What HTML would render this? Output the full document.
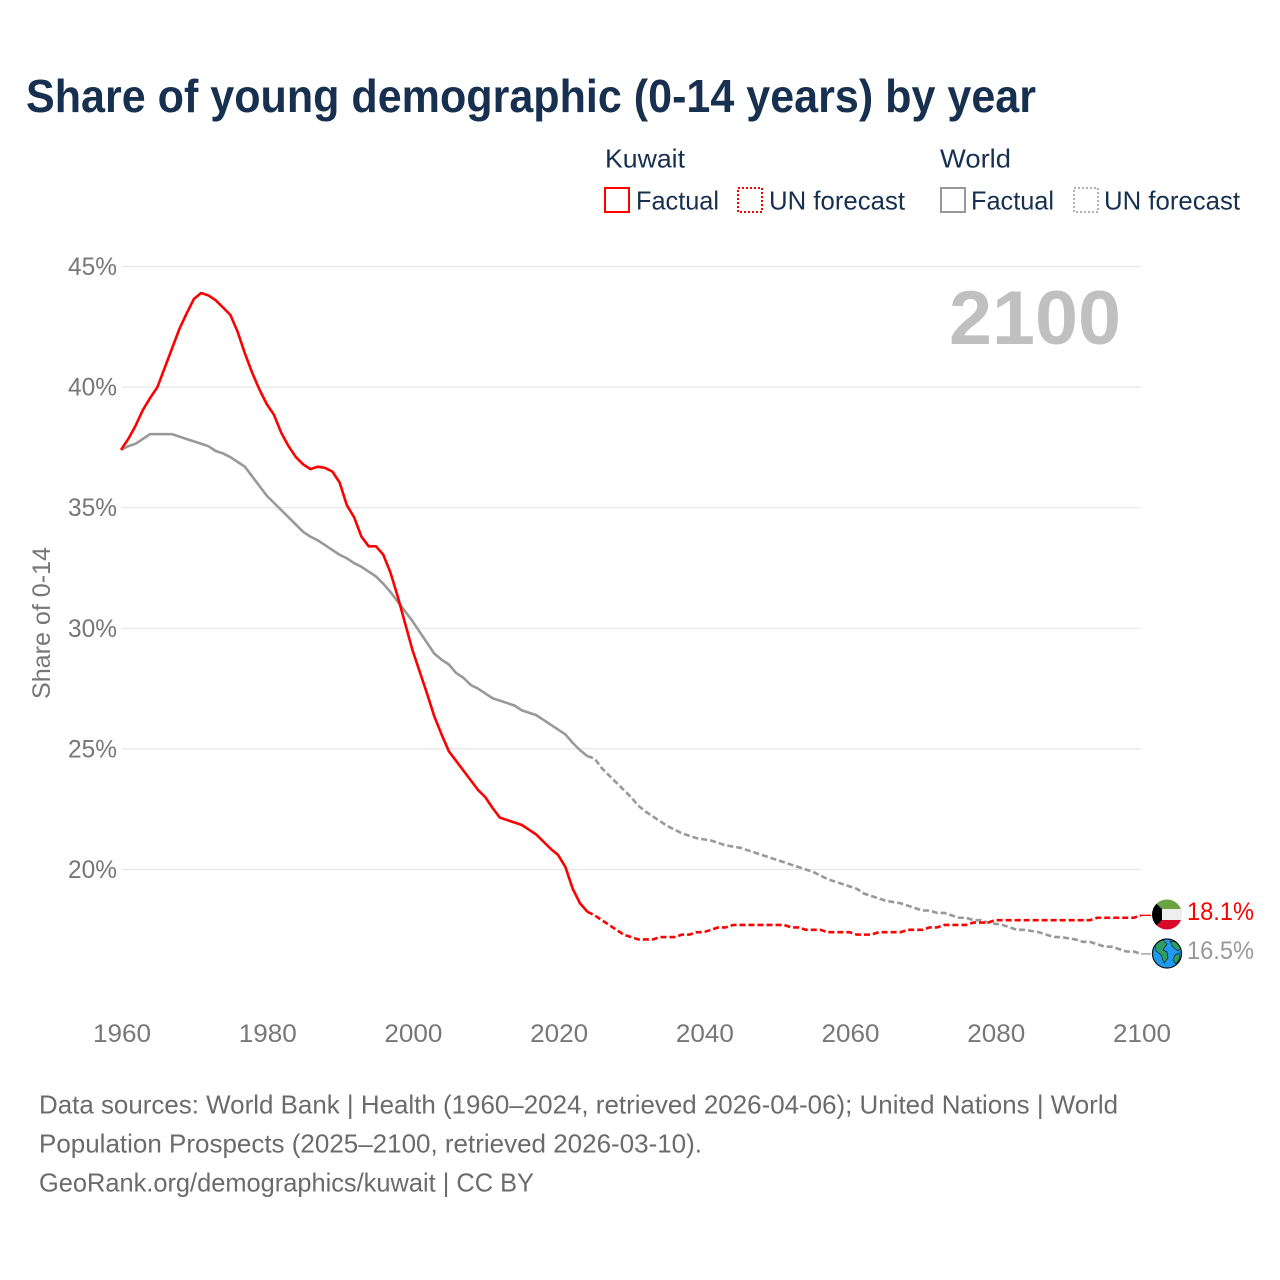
<!DOCTYPE html>
<html lang="en">
<head>
<meta charset="utf-8">
<title>Share of young demographic (0-14 years) by year</title>
<style>
html,body{margin:0;padding:0;background:#fff;}
body{width:1280px;height:1280px;overflow:hidden;}
svg{display:block;font-family:"Liberation Sans",sans-serif;}
</style>
</head>
<body>
<svg id="chart" xmlns="http://www.w3.org/2000/svg" width="1280" height="1280" viewBox="0 0 1280 1280">
  <defs>
    <clipPath id="flag-clip"><circle cx="1167" cy="914.5" r="15"/></clipPath>
    <clipPath id="earth-clip"><circle cx="1167" cy="953.5" r="15"/></clipPath>
  </defs>
  <rect x="0" y="0" width="1280" height="1280" fill="#fff"/>
  <text x="26" y="112" font-size="46" font-weight="700" fill="#17304f" textLength="1010" lengthAdjust="spacingAndGlyphs">Share of young demographic (0-14 years) by year</text>

  <g font-size="26" fill="#17304f">
    <text x="605" y="167.5" textLength="80" lengthAdjust="spacingAndGlyphs">Kuwait</text>
    <text x="940" y="167.5" textLength="71" lengthAdjust="spacingAndGlyphs">World</text>
    <rect x="605" y="188" width="24" height="24" fill="none" stroke="#ff0000" stroke-width="2"/>
    <text x="636" y="209.5" textLength="83" lengthAdjust="spacingAndGlyphs">Factual</text>
    <rect x="738" y="188" width="24" height="24" fill="none" stroke="#ff0000" stroke-width="2" stroke-dasharray="2 2"/>
    <text x="769" y="209.5" textLength="136" lengthAdjust="spacingAndGlyphs">UN forecast</text>
    <rect x="941" y="188" width="24" height="24" fill="none" stroke="#999999" stroke-width="2"/>
    <text x="971" y="209.5" textLength="83" lengthAdjust="spacingAndGlyphs">Factual</text>
    <rect x="1074" y="188" width="24" height="24" fill="none" stroke="#999999" stroke-width="1.5" stroke-dasharray="2 2"/>
    <text x="1104" y="209.5" textLength="136" lengthAdjust="spacingAndGlyphs">UN forecast</text>
  </g>

  <g id="grid"></g>
  <g id="y-ticks" font-size="25" fill="#777777"></g>
  <g id="x-ticks" font-size="25" fill="#777777"></g>
  <text transform="translate(50 623) rotate(-90)" text-anchor="middle" font-size="25" fill="#777777" textLength="152" lengthAdjust="spacingAndGlyphs">Share of 0-14</text>
  <text x="949" y="344" font-size="76" font-weight="700" fill="#c0c0c0" textLength="172" lengthAdjust="spacingAndGlyphs">2100</text>

  <g id="series"></g>

  <g>
    <g clip-path="url(#flag-clip)">
      <rect x="1150" y="898" width="34" height="11" fill="#6aa341"/>
      <rect x="1150" y="909" width="34" height="11" fill="#eeeeee"/>
      <rect x="1150" y="920" width="34" height="12" fill="#d8082a"/>
      <polygon points="1150,898 1152,899.5 1162,909 1162,920 1152,930 1150,932" fill="#000"/>
    </g>
  </g>
  <g>
    <circle cx="1167" cy="953.5" r="15" fill="#1e9af0"/>
    <g clip-path="url(#earth-clip)" fill="#2f9e62" stroke="#123" stroke-width="0.7">
      <polygon points="1155,943 1163,940 1167,944 1163,950 1167,952 1168,958 1164,963 1161,955 1156,951"/>
      <polygon points="1170,941 1176,942 1181,948 1178,951 1173,947"/>
      <polygon points="1175,955 1179,953 1180,958 1176,964 1173,960"/>
    </g>
    <circle cx="1167" cy="953.5" r="14.5" fill="none" stroke="#111" stroke-width="1.2"/>
  </g>
  <text id="label-kuwait" x="1187" y="920" font-size="25" fill="#ff0000" textLength="67" lengthAdjust="spacingAndGlyphs"></text>
  <text id="label-world" x="1187" y="959" font-size="25" fill="#999999" textLength="67" lengthAdjust="spacingAndGlyphs"></text>

  <g font-size="26" fill="#6b6b6b">
    <text x="39" y="1113.5" textLength="1079" lengthAdjust="spacingAndGlyphs">Data sources: World Bank | Health (1960–2024, retrieved 2026-04-06); United Nations | World</text>
    <text x="39" y="1152.5" textLength="663" lengthAdjust="spacingAndGlyphs">Population Prospects (2025–2100, retrieved 2026-03-10).</text>
    <text x="39" y="1191.5" textLength="495" lengthAdjust="spacingAndGlyphs">GeoRank.org/demographics/kuwait | CC BY</text>
  </g>
</svg>
<script>
const xTickYears = [1960, 1980, 2000, 2020, 2040, 2060, 2080, 2100];
const yTickValues = [20, 25, 30, 35, 40, 45];

const factualStartYear = 1960;
const forecastStartYear = 2024;

const kuwaitFactual = [
  37.4, 37.85, 38.4, 39.05, 39.55,
  40.0, 40.8, 41.6, 42.4, 43.05,
  43.65, 43.9, 43.8, 43.6, 43.3,
  43.0, 42.3, 41.4, 40.6, 39.9,
  39.3, 38.85, 38.1, 37.55, 37.1,
  36.8, 36.6, 36.7, 36.65, 36.5,
  36.05, 35.1, 34.6, 33.8, 33.4,
  33.4, 33.05, 32.3, 31.3, 30.2,
  29.1, 28.2, 27.3, 26.35, 25.6,
  24.9, 24.5, 24.1, 23.7, 23.3,
  23.0, 22.55, 22.15, 22.05, 21.95,
  21.85, 21.65, 21.45, 21.15, 20.85,
  20.6, 20.1, 19.2, 18.6, 18.25
];

const kuwaitForecast = [
  18.25, 18.1, 17.9, 17.7, 17.5, 17.3,
  17.2, 17.1, 17.1, 17.1, 17.2,
  17.2, 17.2, 17.3, 17.3, 17.4,
  17.4, 17.5, 17.6, 17.6, 17.7,
  17.7, 17.7, 17.7, 17.7, 17.7,
  17.7, 17.7, 17.6, 17.6, 17.5,
  17.5, 17.5, 17.4, 17.4, 17.4,
  17.4, 17.3, 17.3, 17.3, 17.4,
  17.4, 17.4, 17.4, 17.5, 17.5,
  17.5, 17.6, 17.6, 17.7, 17.7,
  17.7, 17.7, 17.8, 17.8, 17.8,
  17.9, 17.9, 17.9, 17.9, 17.9,
  17.9, 17.9, 17.9, 17.9, 17.9,
  17.9, 17.9, 17.9, 17.9, 18.0,
  18.0, 18.0, 18.0, 18.0, 18.0,
  18.1
];

const worldFactual = [
  37.4, 37.55, 37.65, 37.85, 38.05,
  38.05, 38.05, 38.05, 37.95, 37.85,
  37.75, 37.65, 37.55, 37.35, 37.25,
  37.1, 36.9, 36.7, 36.3, 35.9,
  35.5, 35.2, 34.9, 34.6, 34.3,
  34.0, 33.8, 33.65, 33.45, 33.25,
  33.05, 32.9, 32.7, 32.55, 32.35,
  32.15, 31.85, 31.5, 31.1, 30.7,
  30.3, 29.85, 29.4, 28.95, 28.7,
  28.5, 28.15, 27.95, 27.65, 27.5,
  27.3, 27.1, 27.0, 26.9, 26.8,
  26.6, 26.5, 26.4, 26.2, 26.0,
  25.8, 25.6, 25.25, 24.95, 24.7
];

const worldForecast = [
  24.7, 24.6, 24.2, 23.9, 23.6, 23.3,
  23.0, 22.65, 22.4, 22.2, 22.0,
  21.8, 21.65, 21.5, 21.4, 21.3,
  21.25, 21.2, 21.1, 21.0, 20.95,
  20.9, 20.8, 20.7, 20.6, 20.5,
  20.4, 20.3, 20.2, 20.1, 20.0,
  19.9, 19.75, 19.6, 19.5, 19.4,
  19.3, 19.2, 19.0, 18.9, 18.8,
  18.7, 18.65, 18.6, 18.5, 18.4,
  18.3, 18.3, 18.2, 18.2, 18.1,
  18.0, 18.0, 17.9, 17.9, 17.8,
  17.75, 17.7, 17.6, 17.5, 17.5,
  17.45, 17.4, 17.3, 17.2, 17.2,
  17.15, 17.1, 17.0, 17.0, 16.9,
  16.8, 16.8, 16.7, 16.6, 16.6,
  16.5
];

const endLabelKuwait = "18.1%";
const endLabelWorld = "16.5%";

const SVG_NS = "http://www.w3.org/2000/svg";

function xScale(year) {
  return 121 + (year - 1960) * (1141 - 121) / 140;
}
function yScale(value) {
  return 869.5 - (value - 20) * (869.5 - 266.5) / 25;
}
function pointsFor(values, startYear) {
  return values.map(function (v, i) {
    return xScale(startYear + i).toFixed(2) + "," + yScale(v).toFixed(2);
  }).join(" ");
}
function drawLine(parent, name, values, startYear, color, dash) {
  const line = document.createElementNS(SVG_NS, "polyline");
  
  
  line.setAttribute("points", pointsFor(values, startYear));
  line.setAttribute("fill", "none");
  line.setAttribute("stroke", color);
  line.setAttribute("stroke-width", "2.6");
  line.setAttribute("stroke-linejoin", "round");
  if (dash) {
    line.setAttribute("stroke-dasharray", dash);
  }
  parent.appendChild(line);
}
function drawLeader(parent, name, value, color) {
  const leader = document.createElementNS(SVG_NS, "line");
  
  
  leader.setAttribute("x1", xScale(2100));
  leader.setAttribute("y1", yScale(value));
  leader.setAttribute("x2", 1151);
  leader.setAttribute("y2", yScale(value));
  leader.setAttribute("stroke", color);
  leader.setAttribute("stroke-width", "1.3");
  parent.appendChild(leader);
}

const gridGroup = document.getElementById("grid");
const yTickGroup = document.getElementById("y-ticks");
const xTickGroup = document.getElementById("x-ticks");
const seriesGroup = document.getElementById("series");

yTickValues.forEach(function (v) {
  const grid = document.createElementNS(SVG_NS, "line");
  
  
  grid.setAttribute("x1", 122);
  grid.setAttribute("x2", 1141);
  grid.setAttribute("y1", yScale(v));
  grid.setAttribute("y2", yScale(v));
  grid.setAttribute("stroke", "#e6e6e6");
  grid.setAttribute("stroke-width", "1.2");
  gridGroup.appendChild(grid);

  const label = document.createElementNS(SVG_NS, "text");
  
  
  label.setAttribute("x", 68);
  label.setAttribute("y", yScale(v) + 8.5);
  label.setAttribute("textLength", "49");
  label.setAttribute("lengthAdjust", "spacingAndGlyphs");
  label.textContent = v + "%";
  yTickGroup.appendChild(label);
});

xTickYears.forEach(function (year) {
  const label = document.createElementNS(SVG_NS, "text");
  
  
  label.setAttribute("x", xScale(year) - 28);
  label.setAttribute("y", 1042);
  label.setAttribute("textLength", "58");
  label.setAttribute("lengthAdjust", "spacingAndGlyphs");
  label.textContent = year;
  xTickGroup.appendChild(label);
});

drawLine(seriesGroup, "world-factual-line", worldFactual, factualStartYear, "#999999", null);
drawLine(seriesGroup, "world-forecast-line", worldForecast, forecastStartYear, "#999999", "6 3");
drawLine(seriesGroup, "kuwait-factual-line", kuwaitFactual, factualStartYear, "#ff0000", null);
drawLine(seriesGroup, "kuwait-forecast-line", kuwaitForecast, forecastStartYear, "#ff0000", "6 3");
drawLeader(seriesGroup, "kuwait-end-leader", kuwaitForecast[kuwaitForecast.length - 1], "#ff0000");
drawLeader(seriesGroup, "world-end-leader", worldForecast[worldForecast.length - 1], "#999999");

document.getElementById("label-kuwait").textContent = endLabelKuwait;
document.getElementById("label-world").textContent = endLabelWorld;
</script>
</body>
</html>
